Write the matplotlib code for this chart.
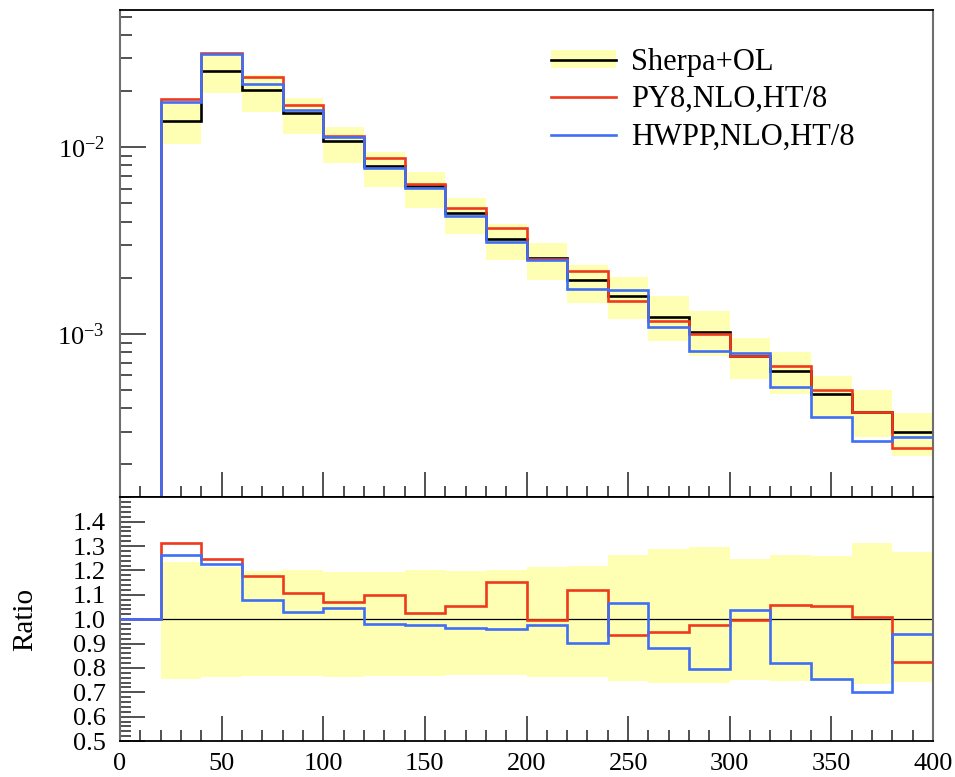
import numpy as np
import matplotlib
matplotlib.use("Agg")
import matplotlib.pyplot as plt
from matplotlib.patches import Patch
from matplotlib.lines import Line2D
from matplotlib.ticker import MultipleLocator, FixedLocator, LogLocator, NullFormatter, FormatStrFormatter

# ── Data ──────────────────────────────────────────────────────────────────────

bin_edges = [0, 20, 40, 60, 80, 100, 120, 140, 160, 180, 200,
             220, 240, 260, 280, 300, 320, 340, 360, 380, 400]

# Sherpa+OL central prediction
sherpa = [0.0, 0.01384, 0.02562, 0.02025, 0.01529, 0.01081, 0.00793, 0.00617,
          0.00446, 0.00323, 0.00254, 0.001935, 0.001607, 0.001239, 0.001025,
          0.000764, 0.000635, 0.000476, 0.000381, 0.000297]

# uncertainty band, relative to Sherpa+OL
band_hi = [1.0, 1.234, 1.214, 1.199, 1.203, 1.194, 1.192, 1.201, 1.198, 1.203,
           1.212, 1.217, 1.263, 1.286, 1.297, 1.247, 1.263, 1.258, 1.311, 1.276]
band_lo = [1.0, 0.753, 0.761, 0.766, 0.766, 0.764, 0.768, 0.768, 0.770, 0.770,
           0.764, 0.761, 0.746, 0.740, 0.739, 0.750, 0.747, 0.746, 0.733, 0.743]

# PY8 and HWPP, as ratio to Sherpa+OL
py8_ratio = [1.0, 1.313, 1.245, 1.176, 1.107, 1.069, 1.099, 1.026, 1.055, 1.151,
             0.998, 1.121, 0.937, 0.948, 0.977, 0.996, 1.059, 1.055, 1.007, 0.825]
hwpp_ratio = [1.0, 1.265, 1.227, 1.080, 1.030, 1.047, 0.982, 0.977, 0.963, 0.961,
              0.977, 0.902, 1.066, 0.883, 0.795, 1.036, 0.819, 0.755, 0.700, 0.940]

labels = ["Sherpa+OL", "PY8,NLO,HT/8", "HWPP,NLO,HT/8"]
x_ticklabels = ["0", "50", "100", "150", "200", "250", "300", "350", "400"]
ratio_ticks = [0.5, 0.6, 0.7, 0.8, 0.9, 1.0, 1.1, 1.2, 1.3, 1.4]

# ── Style ─────────────────────────────────────────────────────────────────────

BAND_C  = "#ffffb3"
REF_C   = "#000000"
PY8_C   = "#ee3a1c"
HWPP_C  = "#3f6ff5"
SPINE_C = "#6e6e6e"
LW      = 1.9

plt.rcParams.update({
    "font.family"      : ["Liberation Serif", "DejaVu Serif"],
    "mathtext.fontset" : "custom",
    "mathtext.rm"      : "Liberation Serif",
    "mathtext.it"      : "Liberation Serif:italic",
    "font.size"        : 19,
})

edges = np.array(bin_edges, dtype=float)
ref   = np.array(sherpa)
hi    = np.array(band_hi)
lo    = np.array(band_lo)
py8   = np.array(py8_ratio)
hwpp  = np.array(hwpp_ratio)

W, H = 955, 777
fig = plt.figure(figsize=(W / 100, H / 100), dpi=100)
ax1 = fig.add_axes([120 / W, (H - 497.3) / H, 813 / W, 487.3 / H])
ax2 = fig.add_axes([120 / W, (H - 741) / H, 813 / W, 243.7 / H])


def style_axes(ax):
    for side in ("top", "bottom"):
        ax.spines[side].set_color("black")
        ax.spines[side].set_linewidth(1.3)
    for side in ("left", "right"):
        ax.spines[side].set_color(SPINE_C)
        ax.spines[side].set_linewidth(1.5)
    ax.tick_params(which="both", direction="in", top=False, right=False,
                   color="#222222", width=1.1)
    ax.tick_params(which="major", length=18)
    ax.tick_params(which="minor", length=8)
    ax.set_xlim(0, 400)
    ax.xaxis.set_major_locator(MultipleLocator(50))
    ax.xaxis.set_minor_locator(MultipleLocator(10))


# ── Main panel ────────────────────────────────────────────────────────────────
ax1.set_yscale("log")
ax1.stairs(ref * hi, edges, baseline=ref * lo, fill=True,
           color=BAND_C, lw=0, zorder=1)
ax1.stairs(ref, edges, baseline=None, color=REF_C, lw=LW, zorder=2)
ax1.stairs(ref * py8, edges, baseline=None, color=PY8_C, lw=LW, zorder=3)
ax1.stairs(ref * hwpp, edges, baseline=None, color=HWPP_C, lw=LW, zorder=4)
style_axes(ax1)
ax1.set_ylim(1.334e-4, 0.05436)
ax1.yaxis.set_major_locator(LogLocator(base=10))
ax1.yaxis.set_minor_locator(LogLocator(base=10, subs=np.arange(2, 10)))
ax1.yaxis.set_minor_formatter(NullFormatter())
ax1.tick_params(axis="y", which="major", length=19, pad=11)
ax1.tick_params(axis="y", which="minor", length=8.5)
ax1.tick_params(axis="x", labelbottom=False)

handles = [
    (Patch(facecolor=BAND_C, edgecolor="none"), Line2D([], [], color=REF_C, lw=LW)),
    Line2D([], [], color=PY8_C, lw=LW),
    Line2D([], [], color=HWPP_C, lw=LW),
]
ax1.legend(handles, labels, loc="upper left", bbox_to_anchor=(0.530, 0.922),
           frameon=False, fontsize=22, borderpad=0, borderaxespad=0,
           handlelength=2.13, handleheight=0.5, handletextpad=0.5,
           labelspacing=0.27)

# ── Ratio panel ───────────────────────────────────────────────────────────────
ax2.stairs(hi, edges, baseline=lo, fill=True, color=BAND_C, lw=0, zorder=1)
ax2.axhline(1.0, color="black", lw=0.9, zorder=2)
ax2.stairs(py8, edges, baseline=None, color=PY8_C, lw=LW, zorder=3)
ax2.stairs(hwpp, edges, baseline=None, color=HWPP_C, lw=LW, zorder=4)
style_axes(ax2)
ax2.set_ylim(0.5, 1.5)
ax2.yaxis.set_major_locator(FixedLocator(ratio_ticks))
ax2.yaxis.set_major_formatter(FormatStrFormatter("%.1f"))
ax2.yaxis.set_minor_locator(MultipleLocator(0.02))
ax2.tick_params(axis="y", which="major", length=18, pad=10)
ax2.tick_params(axis="x", which="major", pad=9)
ax2.set_xticks([int(t) for t in x_ticklabels])
ax2.set_xticklabels(x_ticklabels)
ax2.set_ylabel("Ratio", fontsize=21)
ax2.yaxis.set_label_coords(-0.101, 0.5)

fig.savefig("out.png", dpi=100)
